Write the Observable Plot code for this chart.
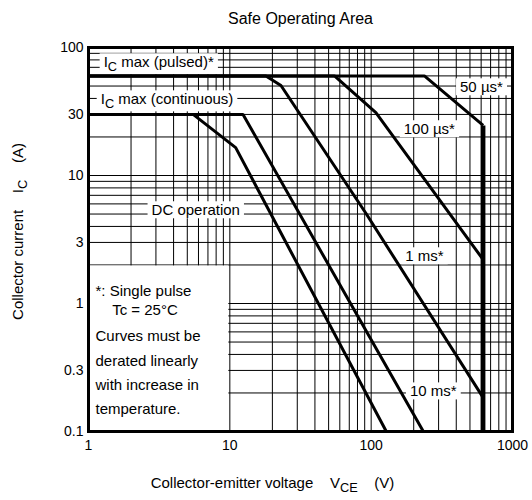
<!DOCTYPE html>
<html><head><meta charset="utf-8">
<script src="https://cdn.jsdelivr.net/npm/d3@7"></script>
<script src="https://cdn.jsdelivr.net/npm/@observablehq/plot@0.6"></script>
<style>body{margin:0;background:#fff}</style>
</head><body><div id="chart"></div>
<script>
// ---- data ----
const title = "Safe Operating Area";
const xLabel = "Collector-emitter voltage\u00a0\u00a0\u00a0\u00a0V_{CE}\u00a0\u00a0\u00a0\u00a0(V)";
const yLabel = "Collector current\u00a0\u00a0\u00a0\u00a0I_{C}\u00a0\u00a0\u00a0\u00a0(A)";
const xTicks = [1, 3, 10, 30, 100, 300, 1000];
const yTicks = [0.1, 0.3, 1, 3, 10, 30, 100];
const xGrid = [1,2,3,4,5,6,7,8,9,10,20,30,40,50,60,70,80,90,100,200,300,400,500,600,700,800,900,1000];
const yGrid = [0.1,0.2,0.3,0.4,0.5,0.6,0.7,0.8,0.9,1,2,3,4,5,6,7,8,9,10,20,30,40,50,60,70,80,90,100];

// curves: collector-emitter voltage (V) and collector current (A)
const dcV    = [1, 5.5, 11, 128];
const dcI    = [30, 30, 16.5, 0.1];
const ms10V  = [1, 12.4, 234];
const ms10I  = [30, 30, 0.1];
const ms1V   = [1, 18, 23, 92, 620];
const ms1I   = [60, 60, 50.5, 5.05, 0.184];
const us100V = [1, 55, 108, 620];
const us100I = [60, 60, 31, 2.2];
const us50V  = [1, 238, 620];
const us50I  = [60, 60, 24.6];
const vcesV  = [620, 620];
const vcesI  = [24.6, 0.1];

// annotation labels
const centerLabels = [
  {text: "50 µs*", x: 603, y: 48.7},
  {text: "100 µs*", x: 258, y: 22.9},
  {text: "1 ms*", x: 238, y: 2.33},
  {text: "10 ms*", x: 275, y: 0.205},
  {text: "DC operation", x: 5.74, y: 5.33}
];
const startLabels = [
  {text: "I_{C} max (pulsed)*", x: 1.28, y: 76.4},
  {text: "I_{C} max (continuous)", x: 1.22, y: 39.2}
];
const noteRegion = [{x1: 1, x2: 10, y1: 0.1, y2: 2}];
const noteHead = [{text: "*: Single pulse\n\u00a0\u00a0\u00a0\u00a0Tc = 25°C", x: 1, y: 1.08}];
const noteBody = [{text: "Curves must be\nderated linearly\nwith increase in\ntemperature.", x: 1, y: 0.302}];

// ---- build table ----
const curves = [
  ["DC", dcV, dcI], ["10ms", ms10V, ms10I], ["1ms", ms1V, ms1I],
  ["100us", us100V, us100I], ["50us", us50V, us50I]
];
const rows = curves.flatMap(([name, V, I]) => V.map((v, k) => ({curve: name, V: v, I: I[k]})));
const vces = vcesV.map((v, k) => ({V: v, I: vcesI[k]}));

const font = "Liberation Sans, Arial, Helvetica, sans-serif";

const chart = Plot.plot({
  width: 532,
  height: 500,
  marginLeft: 88,
  marginRight: 20,
  marginTop: 47,
  marginBottom: 69,
  style: {fontFamily: font, fontSize: "15px", background: "white", color: "black"},
  x: {type: "log", domain: [1, 1000]},
  y: {type: "log", domain: [0.1, 100]},
  marks: [
    Plot.ruleX(xGrid, {stroke: "black", strokeWidth: 1}),
    Plot.ruleY(yGrid, {stroke: "black", strokeWidth: 1}),
    Plot.rect(noteRegion, {x1: "x1", x2: "x2", y1: "y1", y2: "y2", fill: "white", insetRight: 1, insetTop: 1}),
    Plot.text(noteHead, {x: "x", y: "y", text: "text", textAnchor: "start", dx: 7, lineHeight: 1.3, fontSize: 15}),
    Plot.text(noteBody, {x: "x", y: "y", text: "text", textAnchor: "start", dx: 7, lineHeight: 1.62, fontSize: 15}),
    Plot.text(centerLabels, {x: "x", y: "y", text: "text", fontSize: 15}),
    Plot.text(startLabels, {x: "x", y: "y", text: "text", textAnchor: "start", fontSize: 15}),
    Plot.line(rows, {x: "V", y: "I", z: "curve", stroke: "black", strokeWidth: 3, strokeLinejoin: "miter", strokeLinecap: "butt"}),
    Plot.line(vces, {x: "V", y: "I", stroke: "black", strokeWidth: 4.5, strokeLinecap: "butt"}),
    Plot.frame({stroke: "black", strokeWidth: 3}),
    Plot.axisX(xTicks, {tickSize: 0, tickPadding: 9, fontSize: 14, tickFormat: d => String(d), label: null}),
    Plot.axisY(yTicks, {tickSize: 0, tickPadding: 5, fontSize: 14, tickFormat: d => String(d), label: null}),
    Plot.text([title], {frameAnchor: "top", lineAnchor: "middle", dy: -29, fontSize: 16}),
    Plot.text([xLabel], {frameAnchor: "bottom", lineAnchor: "middle", dy: 52, dx: -28, fontSize: 15}),
    Plot.text([yLabel], {frameAnchor: "left", textAnchor: "middle", lineAnchor: "middle", dx: -70, dy: -8, rotate: -90, fontSize: 15})
  ]
});

document.getElementById("chart").appendChild(chart);

const NS = "http://www.w3.org/2000/svg";

// ---- white boxes behind curve labels (computed before subscripting, then re-measured) ----
const boxedTexts = new Set([...centerLabels, ...startLabels].map(d => d.text));
const boxed = [...chart.querySelectorAll("text")].filter(t => boxedTexts.has(t.textContent));

// ---- subscripts ----
chart.querySelectorAll("text, tspan").forEach(t => {
  if (t.children.length) return;
  const s = t.textContent;
  if (!s.includes("_{")) return;
  t.textContent = "";
  const re = /_\{([^}]*)\}/g;
  let last = 0, m, shifted = false;
  const add = (str, sub) => {
    const sp = document.createElementNS(NS, "tspan");
    sp.textContent = str;
    if (sub) { sp.setAttribute("dy", "4"); sp.setAttribute("font-size", "85%"); shifted = true; }
    else if (shifted) { sp.setAttribute("dy", "-4"); shifted = false; }
    t.appendChild(sp);
  };
  while ((m = re.exec(s))) {
    if (m.index > last) add(s.slice(last, m.index), false);
    add(m[1], true);
    last = re.lastIndex;
  }
  if (last < s.length) add(s.slice(last), false);
});

boxed.forEach(t => {
  const b = t.getBBox();
  const r = document.createElementNS(NS, "rect");
  r.setAttribute("x", b.x - 4);
  r.setAttribute("y", b.y);
  r.setAttribute("width", b.width + 8);
  r.setAttribute("height", b.height);
  r.setAttribute("fill", "white");
  const tr = t.getAttribute("transform");
  if (tr) r.setAttribute("transform", tr);
  t.parentNode.insertBefore(r, t);
});
</script>
</body></html>
